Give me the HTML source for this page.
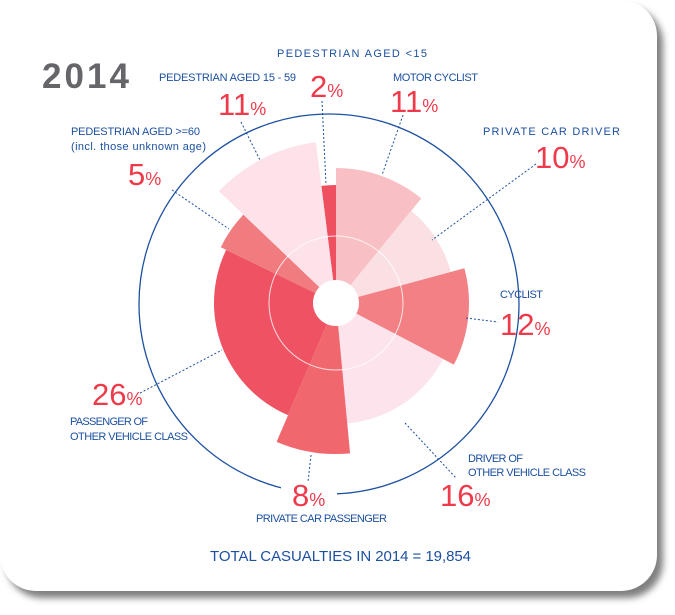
<!DOCTYPE html>
<html><head><meta charset="utf-8">
<style>
html,body{margin:0;padding:0;background:#fff;width:675px;height:615px;overflow:hidden;font-family:"Liberation Sans",sans-serif}
#card{position:absolute;left:0;top:0;width:657px;height:591px;background:#fff;border-radius:36px;box-shadow:6px 7px 7px rgba(0,0,0,.5)}
svg{position:absolute;left:0;top:0}
.lbl{fill:#1c50a0;font-size:11px}
.pct{fill:#ee3a4a;font-size:31px}
.ps{fill:#ee3a4a;font-size:18px}
.lead{stroke:#1c50a0;stroke-width:1;stroke-dasharray:2,2;fill:none}
</style></head>
<body>
<div id="card"></div>
<svg id="chart" width="675" height="615">
<text x="42" y="88" font-size="35" font-weight="bold" fill="#66666a" textLength="87">2014</text>
<circle id="outer" cx="329" cy="304" r="190" fill="none" stroke="#1c50a0" stroke-width="1.3"/>
<rect x="281" y="485" width="56" height="20" fill="#fff"/>
<g id="wedges"></g>
<circle cx="336" cy="303" r="67" fill="none" stroke="#fff" stroke-opacity="0.8" stroke-width="1"/>
<circle cx="336" cy="303" r="23" fill="#fff"/>

<g>
<line class="lead" x1="322" y1="101" x2="326" y2="185"/>
<line class="lead" x1="241" y1="122" x2="260" y2="160"/>
<line class="lead" x1="172" y1="190" x2="229" y2="229"/>
<line class="lead" x1="403" y1="115" x2="382" y2="175"/>
<line class="lead" x1="536" y1="164" x2="432" y2="240"/>
<line class="lead" x1="466" y1="318" x2="498" y2="322"/>
<line class="lead" x1="405" y1="423" x2="456" y2="478"/>
<line class="lead" x1="311" y1="455" x2="308" y2="482"/>
<line class="lead" x1="140" y1="393" x2="222" y2="350"/>
</g>

<text class="lbl" x="277" y="57" textLength="150">PEDESTRIAN AGED &lt;15</text>
<text x="310" y="97"><tspan class="pct">2</tspan><tspan class="ps">%</tspan></text>
<text class="lbl" x="159" y="81" textLength="137">PEDESTRIAN AGED 15 - 59</text>
<text x="218" y="115"><tspan class="pct">11</tspan><tspan class="ps">%</tspan></text>
<text class="lbl" x="393" y="81" textLength="85">MOTOR CYCLIST</text>
<text x="390" y="112"><tspan class="pct">11</tspan><tspan class="ps">%</tspan></text>
<text class="lbl" x="483" y="135" textLength="137">PRIVATE CAR DRIVER</text>
<text x="535" y="168"><tspan class="pct">10</tspan><tspan class="ps">%</tspan></text>
<text class="lbl" x="71" y="135" textLength="129">PEDESTRIAN AGED &gt;=60</text>
<text class="lbl" x="71" y="150" textLength="135">(incl. those unknown age)</text>
<text x="128" y="185"><tspan class="pct">5</tspan><tspan class="ps">%</tspan></text>
<text class="lbl" x="500" y="298" textLength="43">CYCLIST</text>
<text x="500" y="335"><tspan class="pct">12</tspan><tspan class="ps">%</tspan></text>
<text x="92" y="405"><tspan class="pct">26</tspan><tspan class="ps">%</tspan></text>
<text class="lbl" x="70" y="425" textLength="78">PASSENGER OF</text>
<text class="lbl" x="70" y="440" textLength="118">OTHER VEHICLE CLASS</text>
<text class="lbl" x="468" y="462" textLength="55">DRIVER OF</text>
<text class="lbl" x="468" y="476" textLength="118">OTHER VEHICLE CLASS</text>
<text x="440" y="506"><tspan class="pct">16</tspan><tspan class="ps">%</tspan></text>
<text x="292" y="506"><tspan class="pct">8</tspan><tspan class="ps">%</tspan></text>
<text class="lbl" x="256" y="522" textLength="131">PRIVATE CAR PASSENGER</text>
<text x="210" y="561" fill="#1c50a0" font-size="15" textLength="261">TOTAL CASUALTIES IN 2014 = 19,854</text>
</svg>
<script>
const categories=["Pedestrian aged <15","Motor cyclist","Private car driver","Cyclist","Driver of other vehicle class","Private car passenger","Passenger of other vehicle class","Pedestrian aged >=60","Pedestrian aged 15-59"];
const percents=[2,11,10,12,16,8,26,5,11];
const radiusValues=[118,135,119,133,121,151,122,128,162];
const colors=["#ef5060","#f8c0c5","#fae0e3","#f28085","#fde3ec","#f0686e","#ef5262","#f07c80","#fde2ea"];
const cx=336,cy=303;
const total=percents.reduce((a,b)=>a+b,0);
function angleScale(p){return p/total*2*Math.PI;}
function rScale(v){return v;}
function pt(a,r){return [cx+r*Math.sin(a),cy-r*Math.cos(a)];}
const g=document.getElementById('wedges');
let a0=-angleScale(percents[0]);
percents.forEach((p,i)=>{
  const a1=a0+angleScale(p);const r=rScale(radiusValues[i]);
  const s=pt(a0,r),e=pt(a1,r);
  const large=(a1-a0)>Math.PI?1:0;
  const path=document.createElementNS('http://www.w3.org/2000/svg','path');
  path.setAttribute('d',`M${cx},${cy}L${s[0]},${s[1]}A${r},${r} 0 ${large} 1 ${e[0]},${e[1]}Z`);
  path.setAttribute('fill',colors[i]);
  
  
  g.appendChild(path);
  a0=a1;
});
</script>
</body></html>
